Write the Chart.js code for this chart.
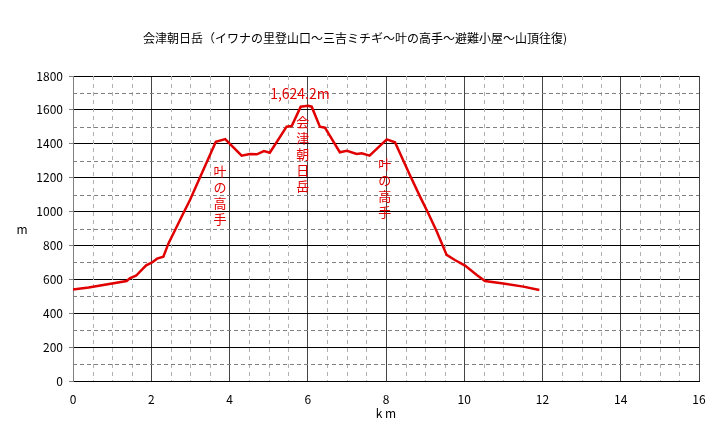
<!DOCTYPE html>
<html lang="ja">
<head>
<meta charset="utf-8">
<title>会津朝日岳 標高グラフ</title>
<script src="https://cdn.jsdelivr.net/npm/chart.js@4.4.0/dist/chart.umd.min.js"></script>
<style>
  body { margin: 0; background: #fff; }
  #wrap { width: 720px; height: 444px; }
</style>
</head>
<body>
<div id="wrap"><canvas id="profile" width="720" height="444"></canvas></div>
<script>
// distance from trailhead (km) and elevation (m)
const distKm = [0, 0.4, 1.37, 1.46, 1.61, 1.87, 2.01, 2.15, 2.31, 2.44, 2.61, 2.82, 2.99,
  3.65, 3.89, 4.31, 4.52, 4.70, 4.88, 5.03, 5.46, 5.59, 5.82, 6.01, 6.10, 6.31, 6.44,
  6.82, 7.0, 7.25, 7.38, 7.58, 8.02, 8.23, 8.61, 8.87, 9.08, 9.30, 9.55, 9.76, 10.02,
  10.32, 10.53, 11.0, 11.51, 11.92];
const elevM = [540, 552, 590, 608, 621, 683, 698, 722, 734, 812, 891, 990, 1068,
  1412, 1428, 1330, 1340, 1338, 1357, 1347, 1501, 1505, 1619, 1624, 1619, 1501, 1495,
  1350, 1359, 1340, 1344, 1330, 1426, 1409, 1216, 1088, 990, 881, 744, 714, 681,
  626, 590, 576, 557, 537];

const xTicks = [0, 2, 4, 6, 8, 10, 12, 14, 16];
const xMinor = [0.5, 1, 1.5, 2.5, 3, 3.5, 4.5, 5, 5.5, 6.5, 7, 7.5, 8.5, 9, 9.5,
  10.5, 11, 11.5, 12.5, 13, 13.5, 14.5, 15, 15.5];
const yTicks = [0, 200, 400, 600, 800, 1000, 1200, 1400, 1600, 1800];
const yMinor = [100, 300, 500, 700, 900, 1100, 1300, 1500, 1700];

const titleText = '会津朝日岳（イワナの里登山口～三吉ミチギ～叶の高手～避難小屋～山頂往復)';
const peakLabel = '1,624.2m';
// vertical place names: [km, elevation of first char, text]
const places = [
  [3.76, 1240, '叶の高手'],
  [5.87, 1530, '会津朝日岳'],
  [7.97, 1280, '叶の高手']
];

const FONT = '"Noto Sans CJK JP", "Noto Sans", sans-serif';
Chart.defaults.font.family = FONT;
Chart.defaults.font.size = 12;
Chart.defaults.color = '#000';

// dashed minor grid, dashes drawn as filled 1px rects
const minorGrid = {
  id: 'minorGrid',
  beforeDatasetsDraw(chart) {
    const { ctx, chartArea: a, scales: { x, y } } = chart;
    ctx.save();
    ctx.fillStyle = '#b0b0b0';
    xMinor.forEach(v => {
      const px = Math.round(x.getPixelForValue(v));
      for (let py = Math.round(a.top); py < a.bottom; py += 8) {
        ctx.fillRect(px, py, 1, Math.min(4, a.bottom - py));
      }
    });
    ctx.fillStyle = '#808080';
    yMinor.forEach(v => {
      const py = Math.round(y.getPixelForValue(v));
      for (let px = Math.round(a.left); px < a.right; px += 7) {
        ctx.fillRect(px, py, Math.min(4, a.right - px), 1);
      }
    });
    ctx.restore();
  }
};

// title, axis names and annotations
const labels = {
  id: 'labels',
  afterDraw(chart) {
    const { ctx, chartArea: a, scales: { x, y } } = chart;
    ctx.save();
    ctx.fillStyle = '#000';
    ctx.textAlign = 'center';
    ctx.textBaseline = 'middle';
    ctx.font = '12px ' + FONT;
    ctx.fillText(titleText, 355, 38);
    ctx.fillText('k m', (a.left + a.right) / 2, 413);
    ctx.fillText('m', 22, 229);

    ctx.fillStyle = '#e00000';
    ctx.font = '14px ' + FONT;
    ctx.fillText(peakLabel, x.getPixelForValue(5.8), y.getPixelForValue(1624) - 12);
    ctx.font = '13px ' + FONT;
    places.forEach(([km, m, txt]) => {
      const px = x.getPixelForValue(km);
      let py = y.getPixelForValue(m);
      for (const ch of txt) {
        ctx.fillText(ch, px, py);
        py += 16;
      }
    });
    ctx.restore();
  }
};

new Chart(document.getElementById('profile'), {
  type: 'line',
  data: {
    datasets: [{
      data: distKm.map((d, i) => ({ x: d, y: elevM[i] })),
      borderColor: '#e00000',
      borderWidth: 2.5,
      pointRadius: 0,
      tension: 0,
      fill: false
    }]
  },
  options: {
    responsive: false,
    animation: false,
    layout: { padding: { top: 76, right: 21, left: 0, bottom: 0 } },
    plugins: { legend: { display: false }, tooltip: { enabled: false } },
    scales: {
      x: {
        type: 'linear',
        min: 0, max: 16,
        afterBuildTicks: s => { s.ticks = xTicks.map(v => ({ value: v })); },
        afterFit: s => { s.height = 63; },
        ticks: { padding: 11, maxRotation: 0, color: '#000', callback: v => String(v) },
        grid: { color: '#444', lineWidth: 1, drawTicks: false },
        border: { color: '#000', width: 1 }
      },
      y: {
        min: 0, max: 1800,
        afterBuildTicks: s => { s.ticks = yTicks.map(v => ({ value: v })); },
        afterFit: s => { s.width = 73; },
        ticks: { padding: 6, color: '#000', callback: v => String(v) },
        grid: { color: '#000', lineWidth: 1, tickLength: 4, tickColor: '#808080' },
        border: { color: '#808080', width: 1 }
      }
    }
  },
  plugins: [minorGrid, labels]
});
</script>
</body>
</html>
